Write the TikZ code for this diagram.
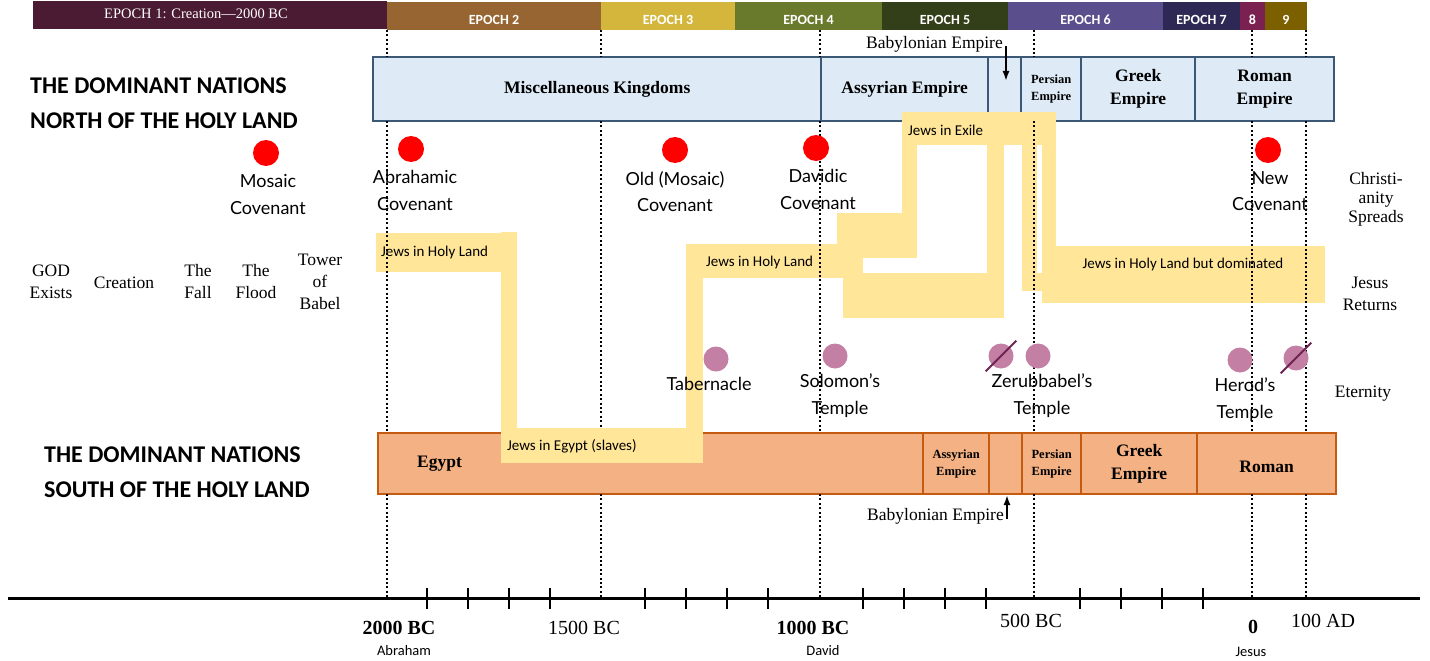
\documentclass[tikz,border=0pt]{standalone}
\usepackage{fontspec}
\setmainfont{Liberation Serif}
\newfontfamily\calib{Carlito}
\newfontfamily\handfont{Lato}
\usetikzlibrary{positioning,arrows.meta}

\definecolor{epA}{HTML}{4A1B33}
\definecolor{epB}{HTML}{976532}
\definecolor{epC}{HTML}{D3B63B}
\definecolor{epD}{HTML}{6A7A2C}
\definecolor{epE}{HTML}{323F18}
\definecolor{epF}{HTML}{5B4E8C}
\definecolor{epG}{HTML}{2E2854}
\definecolor{epH}{HTML}{7B2152}
\definecolor{epI}{HTML}{7C6000}
\definecolor{nfill}{HTML}{DEEBF7}
\definecolor{nline}{HTML}{3B5875}
\definecolor{sfill}{HTML}{F4B183}
\definecolor{sline}{HTML}{C55A11}
\definecolor{jewsfill}{HTML}{FFE699}
\definecolor{templefill}{HTML}{C47FA4}
\definecolor{slashcol}{HTML}{6E2453}

\begin{document}
\begin{tikzpicture}[x=1pt,y=-1pt,
  eptext/.style={text=white, font=\calib\bfseries\fontsize{14}{16}\selectfont},
  nbox/.style={draw=nline, fill=nfill, line width=2.4pt, minimum height=64pt, inner sep=0pt, anchor=west, align=center},
  sbox/.style={draw=sline, fill=sfill, line width=2.4pt, minimum height=61pt, inner sep=0pt, anchor=west, align=center},
  bigbold/.style={font=\bfseries\fontsize{17.5}{23}\selectfont},
  smallbold/.style={font=\bfseries\fontsize{12.5}{17}\selectfont},
  heading/.style={font=\calib\bfseries\fontsize{24}{35}\selectfont, align=left, anchor=west, inner sep=0pt},
  jews/.style={fill=jewsfill},
  jewstext/.style={font=\calib\fontsize{15}{17}\selectfont, inner sep=0pt},
  covdot/.style={circle, fill=red, minimum size=26pt, inner sep=0pt},
  tempdot/.style={circle, fill=templefill, minimum size=25pt, inner sep=0pt},
  hand/.style={font=\handfont\fontsize{18}{26.5}\selectfont, align=center, inner sep=0pt},
  event/.style={font=\fontsize{17.5}{22}\selectfont, align=center, inner sep=0pt},
  year/.style={font=\fontsize{20}{22}\selectfont, inner sep=0pt},
  person/.style={font=\calib\fontsize{14.5}{16}\selectfont, inner sep=0pt},
  dots/.style={line width=2pt, dash pattern=on 2pt off 2.4pt},
  pointer/.style={line width=1.8pt, -{Latex[length=10pt,width=7pt]}},
  slash/.style={draw=slashcol, line width=2pt, shorten <=-9pt, shorten >=-9pt}]
\useasboundingbox (0,0) rectangle (1430,661);

% epochs along the top
\fill[epA] (33,1) rectangle (387,29);
\node[text=white, font=\fontsize{14.5}{16}\selectfont] (ep1) at (196,14) {EPOCH 1: Creation---2000 BC};
\foreach \a/\b/\c/\t [count=\i] in {387/601/epB/EPOCH 2, 601/735/epC/EPOCH 3, 735/882/epD/EPOCH 4,
    882/1008/epE/EPOCH 5, 1008/1163/epF/EPOCH 6, 1163/1240/epG/EPOCH 7, 1240/1265/epH/8, 1265/1307/epI/9} {
  \fill[\c] (\a,2) rectangle (\b,30);
  \node[eptext] (epoch\i) at ({(\a+\b)/2},20) {\t};
}

% headings
\node[heading] (north) at (30,103) {THE DOMINANT NATIONS\\NORTH OF THE HOLY LAND};
\node[heading] (south) at (44,472) {THE DOMINANT NATIONS\\SOUTH OF THE HOLY LAND};

% nations north
\node[nbox, minimum width=448pt, bigbold] (misc) at (372,89) {Miscellaneous Kingdoms};
\node[nbox, minimum width=167pt, bigbold] (assyrN) at (820,89) {Assyrian Empire};
\node[nbox, minimum width=33pt] (babylN) at (987,89) {};
\node[nbox, minimum width=60pt, smallbold] (persN) at (1020,89) {Persian\\Empire};
\node[nbox, minimum width=114pt, bigbold] (greekN) at (1080,89) {Greek\\Empire};
\node[nbox, minimum width=139pt, bigbold] (romanN) at (1194,89) {Roman\\Empire};

% nations south
\node[sbox, minimum width=545pt] (egypt) at (377,463.5) {};
\node[bigbold, inner sep=0pt, right=40pt of egypt.west] (egyptLbl) {Egypt};
\node[sbox, minimum width=66pt, smallbold] (assyrS) at (922,463.5) {Assyrian\\Empire};
\node[sbox, minimum width=33pt] (babylS) at (988,463.5) {};
\node[sbox, minimum width=59pt, smallbold] (persS) at (1021,463.5) {Persian\\Empire};
\node[sbox, minimum width=116pt, bigbold] (greekS) at (1080,463.5) {Greek\\Empire};
\node[sbox, minimum width=139pt] (romanS) at (1196,463.5) {};
\node[bigbold, inner sep=0pt, below=-3pt of romanS.center] (romanLbl) {Roman};

% where the Jews were
\foreach \a/\b/\c/\d in {376/233/517/272, 501/232/517/463, 501/428/703/463, 686/244/703/463,
    686/244/863/278, 837/213/917/258, 843/273/1004/318, 902/112/917/258, 902/112/1056/145,
    987/145/1004/318, 1022/145/1037/291, 1042/145/1056/246, 1022/273/1080/291, 1042/246/1325/303}
  \fill[jews] (\a,\b) rectangle (\c,\d);
\node[jewstext, anchor=west] (holy1) at (381,252) {Jews in Holy Land};
\node[jewstext, anchor=west] (slaves) at (507,446) {Jews in Egypt (slaves)};
\node[jewstext, anchor=west] (holy2) at (706,262) {Jews in Holy Land};
\node[jewstext, anchor=west] (exile) at (908,130) {Jews in Exile};
\node[jewstext] (dominated) at (1183,264) {Jews in Holy Land but dominated};

% dotted guides
\foreach \x/\e in {387/433, 601/428, 820/433, 1034/433, 1252/433, 1306/433} {
  \draw[dots] (\x,30) -- (\x,57);
  \draw[dots] (\x,121) -- (\x,\e);
  \draw[dots] (\x,494) -- (\x,598);
}

% Babylonian Empire pointers
\node[event, anchor=east] (babN) at (1003,44) {Babylonian Empire};
\coordinate (babNtip) at (1006,81);
\draw[pointer] ([yshift=-2pt]babN.east -| babNtip) -- (babNtip);
\node[event, anchor=east] (babS) at (1004,516) {Babylonian Empire};
\coordinate (babStip) at (1007,495);
\draw[pointer] ([yshift=-3pt]babS.east -| babStip) -- (babStip);

% covenants
\node[covdot] (mosaicDot) at (266,153) {};
\node[hand, below=8pt of mosaicDot, xshift=2pt] (mosaicLbl) {Mosaic\\Covenant};
\node[covdot] (abrDot) at (411,149) {};
\node[hand, below=8pt of abrDot, xshift=4pt] (abrLbl) {Abrahamic\\Covenant};
\node[covdot] (oldDot) at (675,150) {};
\node[hand, below=8pt of oldDot] (oldLbl) {Old (Mosaic)\\Covenant};
\node[covdot] (davDot) at (816,148) {};
\node[hand, below=8pt of davDot, xshift=2pt] (davLbl) {Davidic\\Covenant};
\node[covdot] (newDot) at (1268,150) {};
\node[hand, below=8pt of newDot, xshift=2pt] (newLbl) {New\\Covenant};

% before Abraham
\node[event] (god) at (51,282) {GOD\\Exists};
\node[event] (creation) at (124,283) {Creation};
\node[event] (fall) at (198,282) {The\\Fall};
\node[event] (flood) at (256,282) {The\\Flood};
\node[event] (babel) at (320,282) {Tower\\of\\Babel};

% what comes after
\node[event, font=\fontsize{17.5}{19}\selectfont] (spreads) at (1376,199) {Christi-\\anity\\Spreads};
\node[event] (returns) at (1370,294) {Jesus\\Returns};
\node[event] (eternity) at (1363,394) {Eternity};

% temples
\node[tempdot] (tabDot) at (716,359) {};
\node[hand, below=5pt of tabDot, xshift=-7pt] (tabLbl) {Tabernacle};
\node[tempdot] (solDot) at (835,356) {};
\node[hand, below=5pt of solDot, xshift=5pt] (solLbl) {Solomon’s\\Temple};
\node[tempdot] (solGone) at (1001,356) {};
\draw[slash] (solGone.south west) -- (solGone.north east);
\node[tempdot] (zerDot) at (1038,356) {};
\node[hand, below=5pt of zerDot, xshift=4pt] (zerLbl) {Zerubbabel’s\\Temple};
\node[tempdot] (herDot) at (1240,360) {};
\node[hand, below=5pt of herDot, xshift=5pt] (herLbl) {Herod’s\\Temple};
\node[tempdot] (herGone) at (1296,358) {};
\draw[slash] (herGone.south west) -- (herGone.north east);

% time axis
\draw[line width=3pt] (8,598) -- (1420,598);
\foreach \x in {427,468,509,550,645,686,727,768,863,904,945,986,1080,1121,1162,1203}
  \draw[line width=2.2pt] (\x,588) -- (\x,609);
\node[year, font=\bfseries\fontsize{20}{22}\selectfont] (y2000) at (399,628) {2000 BC};
\node[year] (y1500) at (584,628) {1500 BC};
\node[year, font=\bfseries\fontsize{20}{22}\selectfont] (y1000) at (813,628) {1000 BC};
\node[year] (y500) at (1031,621) {500 BC};
\node[year, font=\bfseries\fontsize{20}{22}\selectfont] (y0) at (1253,627) {0};
\node[year] (y100) at (1323,621) {100 AD};
\node[person] (abraham) at (404,651) {Abraham};
\node[person] (david) at (823,651) {David};
\node[person] (jesus) at (1251,652) {Jesus};
\end{tikzpicture}
\end{document}
